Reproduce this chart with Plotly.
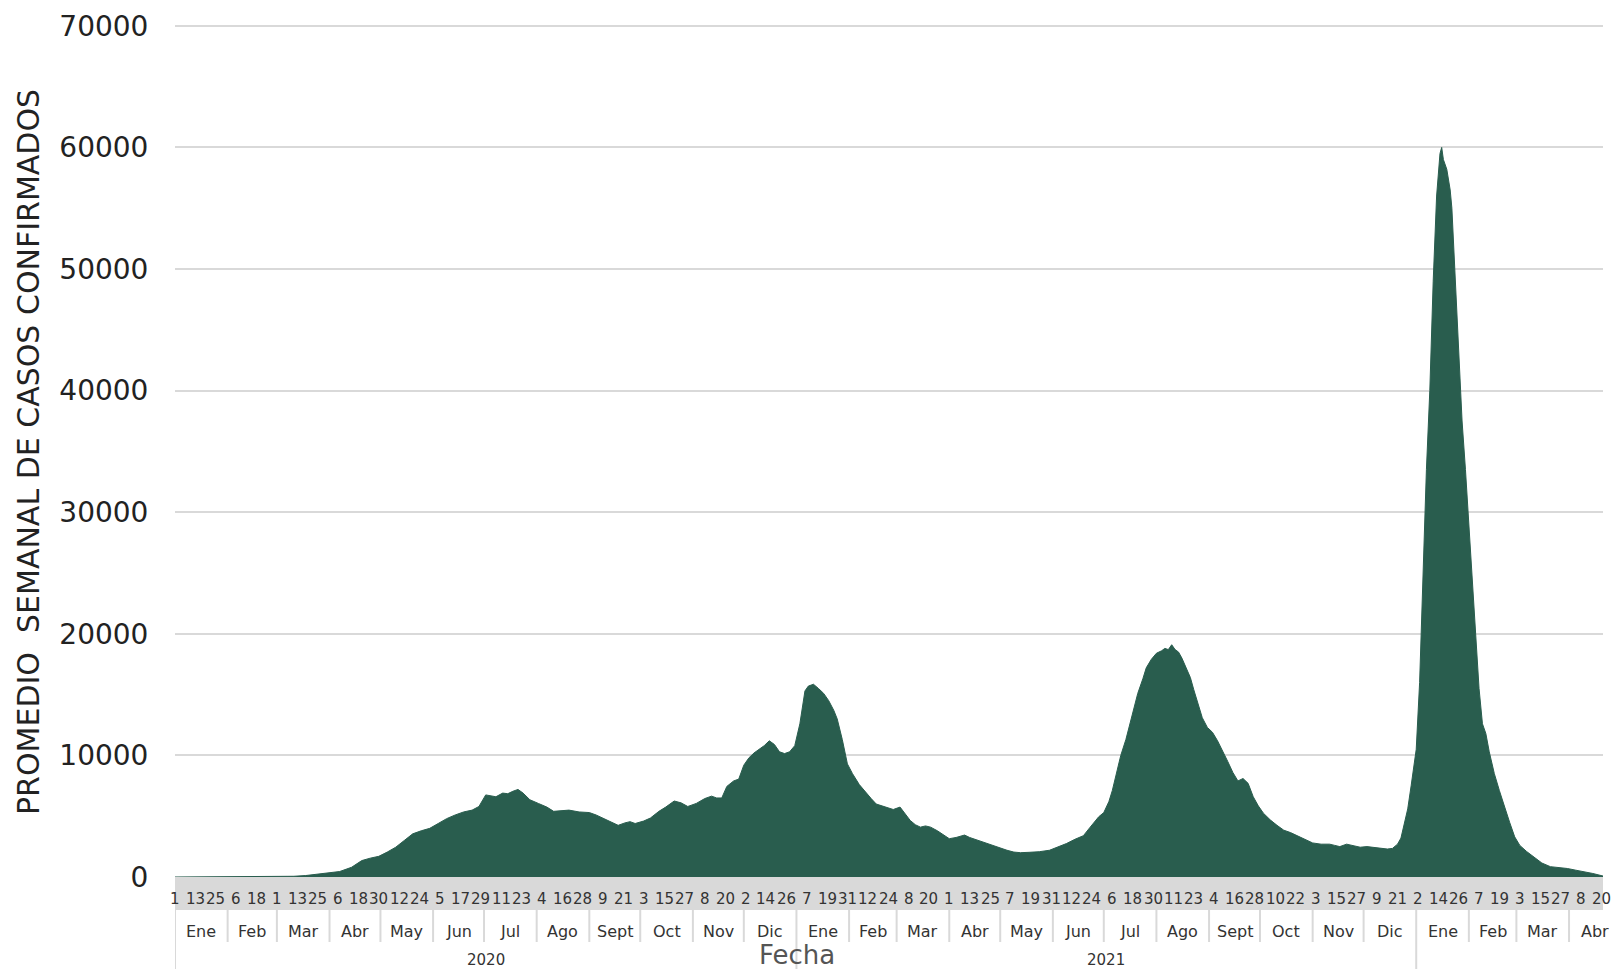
import pandas as pd
import plotly.graph_objects as go

# ---------------- data ----------------
inicio = "2020-01-01"
# days since 2020-01-01
dias = [0, 30, 50, 60, 70, 77, 85, 92, 97, 104, 110, 115, 120, 125, 130, 135, 140, 145, 150, 155,
        160, 165, 170, 175, 179, 183, 186, 189, 193, 196, 199, 202, 205, 209, 214, 219, 223, 228,
        232, 238, 244, 248, 252, 256, 261, 265, 268, 271, 276, 280, 285, 289, 294, 298, 302, 307,
        312, 316, 319, 322, 325, 329, 332, 335, 338, 341, 344, 347, 350, 353, 356, 359, 362, 365,
        368, 371, 373, 376, 379, 382, 385, 388, 390, 393, 396, 399, 403, 407, 410, 413, 416, 419,
        423, 427, 430, 433, 436, 439, 442, 445, 449, 452, 456, 460, 465, 468, 472, 477, 482, 486,
        490, 494, 498, 503, 509, 515, 520, 525, 530, 535, 539, 541, 544, 547, 550, 552, 555, 557,
        560, 562, 565, 567, 570, 572, 575, 578, 581, 583, 585, 587, 589, 591, 593, 596, 598, 600,
        603, 605, 608, 611, 614, 617, 620, 623, 626, 629, 632, 635, 638, 641, 645, 649, 653, 657,
        661, 665, 670, 675, 680, 683, 686, 690, 694, 698, 702, 706, 710, 714, 717, 720, 722, 724,
        726, 728, 730, 731, 733, 735, 737, 739, 741, 743, 745, 746, 747, 749, 751, 752, 754, 756,
        758, 760, 762, 764, 766, 768, 770, 772, 774, 777, 780, 783, 786, 789, 792, 796, 800, 805,
        810, 815, 820, 825, 830, 835, 841]
casos = [0, 0, 5, 20, 60, 120, 230, 350, 450, 800, 1350, 1550, 1700, 2050, 2450, 3000, 3550, 3800, 4000, 4400,
         4800, 5100, 5350, 5500, 5800, 6750, 6650, 6600, 6900, 6850, 7050, 7200, 6900, 6350, 6050, 5750, 5400, 5450,
         5500, 5350, 5300, 5100, 4850, 4600, 4250, 4450, 4550, 4400, 4600, 4850, 5400, 5750, 6250, 6100, 5800, 6050,
         6450, 6650, 6500, 6500, 7450, 7900, 8050, 9200, 9800, 10200, 10500, 10800, 11200, 10900, 10300, 10150, 10300, 10800,
         12600, 15300, 15700, 15850, 15500, 15100, 14500, 13700, 13000, 11300, 9300, 8500, 7600, 6900, 6450, 6000, 5850, 5750,
         5550, 5750, 5200, 4650, 4300, 4100, 4200, 4100, 3800, 3500, 3150, 3250, 3450, 3250, 3050, 2850, 2600, 2400,
         2200, 2050, 2000, 2030, 2080, 2200, 2450, 2750, 3100, 3400, 4100, 4450, 4950, 5300, 6200, 7100, 8800, 10000,
         11300, 12400, 13900, 15100, 16300, 17200, 17900, 18400, 18600, 18800, 18700, 19100, 18700, 18500, 18000, 17000, 16400, 15400,
         13900, 13100, 12300, 11900, 11200, 10400, 9500, 8600, 7900, 8100, 7700, 6600, 5850, 5250, 4700, 4250, 3850, 3650,
         3400, 3150, 2800, 2700, 2700, 2600, 2500, 2700, 2600, 2450, 2500, 2450, 2350, 2300, 2350, 2700, 3200, 4300,
         5600, 7500, 9500, 10500, 16000, 25700, 33500, 40000, 49000, 56000, 59500, 60000, 59000, 58200, 56500, 55000, 49400, 43000,
         37500, 33500, 29000, 24500, 19800, 15500, 12600, 11800, 10300, 8500, 7100, 5700, 4500, 3300, 2600, 2100, 1700, 1150,
         850, 780, 700, 560, 430, 290, 80]

fin_eje = "2022-04-21"
meses_nombres = ["Ene", "Feb", "Mar", "Abr", "May", "Jun", "Jul", "Ago", "Sept", "Oct", "Nov", "Dic"]
anios = [2020, 2021]
paso_dias = 12           # day tick spacing on the axis
y_ticks = [0, 10000, 20000, 30000, 40000, 50000, 60000, 70000]
y_max = 70312

# ---------------- figure ----------------
W, H = 1611, 969
L, R, T, B = 175, 8, 22, 92
ph = H - T - B


def py(pix):
    """pixel row -> paper y"""
    return (H - B - pix) / ph


FONT = "DejaVu Sans, Open Sans, sans-serif"
VERDE = "#295d4e"
GRIS = "#d9d9d9"

t0 = pd.Timestamp(inicio)
fechas = [t0 + pd.Timedelta(days=d) for d in dias]
t_end = pd.Timestamp(fin_eje)

fig = go.Figure()
fig.add_trace(go.Scatter(x=fechas, y=casos, mode="lines", fill="tozeroy",
                         line=dict(color=VERDE, width=1), fillcolor=VERDE,
                         hoverinfo="x+y", showlegend=False))

shapes = []
annotations = []

# grey band under the axis
shapes.append(dict(type="rect", xref="paper", yref="paper", x0=0, x1=1,
                   y0=py(910), y1=py(877), fillcolor=GRIS, line=dict(width=0), layer="below"))

# day labels every 12 days
d = t0
while d <= t_end:
    annotations.append(dict(x=d, xref="x", y=py(899), yref="paper", text=str(d.day),
                            showarrow=False, xanchor="center", yanchor="middle",
                            font=dict(size=15, color="#333333", family=FONT)))
    d = d + pd.Timedelta(days=paso_dias)

# month labels and separators
m = t0
while m <= t_end:
    nxt = m + pd.offsets.MonthBegin(1)
    mid = m + (nxt - m) / 2
    annotations.append(dict(x=mid, xref="x", y=py(931), yref="paper", text=meses_nombres[m.month - 1],
                            showarrow=False, xanchor="center", yanchor="middle",
                            font=dict(size=16, color="#333333", family=FONT)))
    bottom = 975 if m.month == 1 else 942
    shapes.append(dict(type="line", xref="x", yref="paper", x0=m, x1=m,
                       y0=py(910), y1=py(bottom), line=dict(color=GRIS, width=2)))
    m = nxt

# year labels
for a in anios:
    ya = pd.Timestamp(f"{a}-01-01")
    yb = pd.Timestamp(f"{a + 1}-01-01")
    annotations.append(dict(x=ya + (yb - ya) / 2, xref="x", y=py(960), yref="paper", text=str(a),
                            showarrow=False, xanchor="center", yanchor="middle",
                            font=dict(size=15, color="#333333", family=FONT)))

# axis titles
annotations.append(dict(x=(797 - L) / (W - L - R), xref="paper", y=py(955), yref="paper", text="Fecha",
                        showarrow=False, xanchor="center", yanchor="middle",
                        font=dict(size=26, color="#555555", family=FONT)))
annotations.append(dict(x=(28 - L) / (W - L - R), xref="paper", y=py(452), yref="paper",
                        text="PROMEDIO  SEMANAL DE CASOS CONFIRMADOS", textangle=-90,
                        showarrow=False, xanchor="center", yanchor="middle",
                        font=dict(size=30, color="#222222", family=FONT)))

fig.update_layout(
    width=W, height=H,
    margin=dict(l=L, r=R, t=T, b=B, pad=0),
    paper_bgcolor="white", plot_bgcolor="white",
    font=dict(family=FONT, color="#222222"),
    shapes=shapes, annotations=annotations,
    xaxis=dict(type="date", range=[t0, t_end], showgrid=False, zeroline=False,
               showticklabels=False, ticks="", showline=False, fixedrange=True),
    yaxis=dict(range=[0, y_max], tickvals=y_ticks, ticktext=[str(v) for v in y_ticks],
               showgrid=True, gridcolor=GRIS, gridwidth=2, zeroline=False, showline=False,
               ticks="outside", ticklen=20, tickcolor="rgba(0,0,0,0)",
               tickfont=dict(size=28, color="#222222", family=FONT), fixedrange=True),
)

fig.write_html("out.html", config={"displayModeBar": False},
               post_script="document.body.style.margin='0';document.body.style.overflow='hidden';")
